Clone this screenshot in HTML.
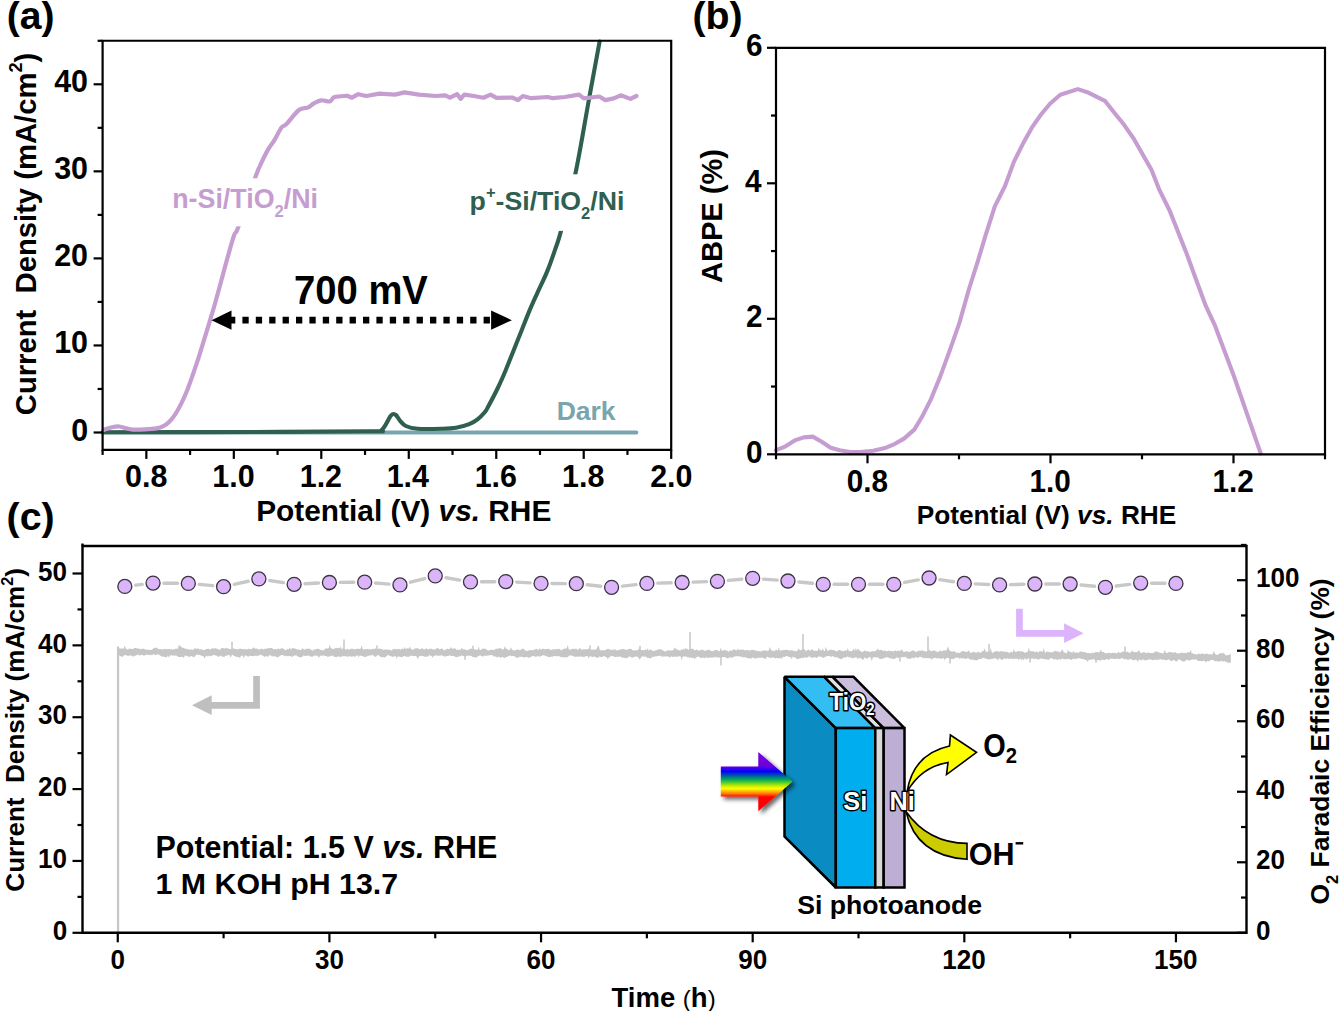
<!DOCTYPE html>
<html><head><meta charset="utf-8"><title>figure</title>
<style>html,body{margin:0;padding:0;background:#fff;overflow:hidden;}svg{display:block;}
text{font-family:"Liberation Sans",sans-serif;}</style></head>
<body><svg width="1339" height="1011" viewBox="0 0 1339 1011">
<rect width="1339" height="1011" fill="#fff"/>
<line x1="102.6" y1="432.4" x2="636.3" y2="432.4" stroke="#79a5ad" stroke-width="4.0" stroke-linecap="round"/>
<path d="M102.6,432.2 C127.17,432.17 205.43,432.15 250,432 C294.57,431.85 348,431.7 370,431.3 C392,430.9 378.52,432.22 382,429.6 C385.48,426.98 388.62,418.05 390.9,415.6 C393.18,413.15 394.2,414.07 395.7,414.9 C397.2,415.73 398.22,418.75 399.9,420.6 C401.58,422.45 402.82,424.63 405.8,426 C408.78,427.37 411.82,428.33 417.8,428.8 C423.78,429.27 435.33,428.97 441.7,428.8 C448.07,428.63 451.42,428.57 456,427.8 C460.58,427.03 465.62,425.6 469.2,424.2 C472.78,422.8 474.92,421.38 477.5,419.4 C480.08,417.42 482.87,414.53 484.7,412.3 C486.53,410.07 486.32,410.05 488.5,406 C490.68,401.95 494.93,393.97 497.8,388 C500.67,382.03 503.07,376.47 505.7,370.2 C508.33,363.93 510.97,356.98 513.6,350.4 C516.23,343.82 518.87,337.28 521.5,330.7 C524.13,324.12 526.77,317.17 529.4,310.9 C532.03,304.63 534.33,299.68 537.3,293.1 C540.27,286.52 544.23,278.65 547.2,271.4 C550.17,264.15 552.8,256.35 555.1,249.6 C557.4,242.85 557.6,243.63 561,230.9 C564.4,218.17 570.78,195.43 575.5,173.2 C580.22,150.97 585.28,119.43 589.3,97.5 C593.32,75.57 597.88,50.92 599.6,41.6" fill="none" stroke="#2f5f4f" stroke-width="4.1" stroke-linejoin="round" stroke-linecap="round" />
<path d="M103.7,429.9 C105.07,429.47 109.3,427.87 111.9,427.3 C114.5,426.73 116.83,426.32 119.3,426.5 C121.77,426.68 124.47,427.88 126.7,428.4 C128.93,428.92 129.73,429.43 132.7,429.6 C135.67,429.77 140.55,429.6 144.5,429.4 C148.45,429.2 153.27,428.93 156.4,428.4 C159.53,427.87 161.15,427.32 163.3,426.2 C165.45,425.08 167.32,423.68 169.3,421.7 C171.28,419.72 173.23,417.27 175.2,414.3 C177.17,411.33 179.12,407.87 181.1,403.9 C183.08,399.93 185.12,395.45 187.1,390.5 C189.08,385.55 191.02,379.88 193,374.2 C194.98,368.52 197.02,362.58 199,356.4 C200.98,350.22 202.93,343.53 204.9,337.1 C206.87,330.67 208.95,323.98 210.8,317.8 C212.65,311.62 212.37,313 216,300 C219.63,287 228.9,251.93 232.6,239.8 C236.3,227.67 234.4,237.62 238.2,227.2 C242,216.78 251.75,187.58 255.4,177.3 C259.05,167.02 258,170.12 260.1,165.5 C262.2,160.88 265.62,153.83 268,149.6 C270.38,145.37 272.15,143.78 274.4,140.1 C276.65,136.42 279.53,130.13 281.5,127.5 C283.47,124.87 283.3,127.22 286.2,124.3 C289.1,121.38 295.33,112.77 298.9,110 C302.47,107.23 305.1,108.8 307.6,107.7 C310.1,106.6 311.65,104.63 313.9,103.4 C316.15,102.17 318.45,100.63 321.1,100.3 C323.75,99.97 327.57,101.93 329.8,101.4 C332.03,100.87 331.6,98.03 334.5,97.1 C337.4,96.17 345.08,96.02 347.2,95.8" fill="none" stroke="#c69dd1" stroke-width="4.2" stroke-linejoin="round" stroke-linecap="round" />
<polyline points="347.2,95.8 351.9,97.7 358.3,94.2 366.3,96 379.4,93.6 395,94.6 404.5,92.4 418.9,94.6 435.6,96 445.2,95.3 450,97.7 457.1,94.1 460.7,98.9 464.3,94.6 473.8,96 483.4,97.7 490.6,94.6 496.5,97.9 512.1,97.5 518,100.1 522.8,96 531.2,98.2 547.9,97 552.7,98.2 564.7,97 579,94.6 583.8,98.4 599.3,96.5 605.3,100.1 613.7,98.4 620.8,95.3 630.4,98.9 636.4,96" fill="none" stroke="#c69dd1" stroke-width="4.2" stroke-linejoin="round" stroke-linecap="round" />
<rect x="170" y="178.3" width="150" height="48" fill="#fff"/>
<rect x="468" y="174.3" width="158" height="56.6" fill="#fff"/>
<text transform="translate(172.21,208.10) scale(0.8943,0.8943)" font-size="30" fill="#c69dd1" font-family="Liberation Sans" font-weight="bold" >n-Si/TiO<tspan class="ss" font-size="18.6" dy="10.2">2</tspan><tspan dy="-10.2">/Ni</tspan></text>
<text transform="translate(469.62,209.65) scale(0.8900,0.8900)" font-size="30" fill="#2f5f4f" font-family="Liberation Sans" font-weight="bold" >p<tspan class="ss" font-size="18.6" dy="-13.2">+</tspan><tspan dy="13.2">-Si/TiO</tspan><tspan class="ss" font-size="18.6" dy="10.2">2</tspan><tspan dy="-10.2">/Ni</tspan></text>
<text transform="translate(556.63,420.26) scale(0.8849,0.8849)" font-size="30" fill="#79a5ad" font-family="Liberation Sans" font-weight="bold" >Dark</text>
<text transform="translate(294.01,304.46) scale(1.2744,1.3459)" font-size="30" fill="#000" font-family="Liberation Sans" font-weight="bold" >700 mV</text>
<line x1="229" y1="320.2" x2="493" y2="320.2" stroke="#000" stroke-width="6.8" stroke-dasharray="6.3 7.1"/>
<polygon points="211.5,320.2 231.5,310.6 231.5,329.8" fill="#000"/>
<polygon points="511.9,320.2 491.1,310.6 491.1,329.8" fill="#000"/>
<path d="M102.6,40.77 H671.2 V449.91 H102.6 Z" fill="none" stroke="#000" stroke-width="2.2"/>
<line x1="93.6" y1="432.5" x2="102.6" y2="432.5" stroke="#000" stroke-width="2.2" stroke-linecap="butt"/>
<text transform="translate(71.17,440.54) scale(1.0150,1.0400)" font-size="30" font-family="Liberation Sans" font-weight="bold">0</text>
<line x1="97.6" y1="388.98" x2="102.6" y2="388.98" stroke="#000" stroke-width="2.2" stroke-linecap="butt"/>
<line x1="93.6" y1="345.45" x2="102.6" y2="345.45" stroke="#000" stroke-width="2.2" stroke-linecap="butt"/>
<text transform="translate(54.17,353.49) scale(1.0150,1.0400)" font-size="30" font-family="Liberation Sans" font-weight="bold">10</text>
<line x1="97.6" y1="301.93" x2="102.6" y2="301.93" stroke="#000" stroke-width="2.2" stroke-linecap="butt"/>
<line x1="93.6" y1="258.4" x2="102.6" y2="258.4" stroke="#000" stroke-width="2.2" stroke-linecap="butt"/>
<text transform="translate(54.17,266.44) scale(1.0150,1.0400)" font-size="30" font-family="Liberation Sans" font-weight="bold">20</text>
<line x1="97.6" y1="214.88" x2="102.6" y2="214.88" stroke="#000" stroke-width="2.2" stroke-linecap="butt"/>
<line x1="93.6" y1="171.35" x2="102.6" y2="171.35" stroke="#000" stroke-width="2.2" stroke-linecap="butt"/>
<text transform="translate(54.17,179.39) scale(1.0150,1.0400)" font-size="30" font-family="Liberation Sans" font-weight="bold">30</text>
<line x1="97.6" y1="127.82" x2="102.6" y2="127.82" stroke="#000" stroke-width="2.2" stroke-linecap="butt"/>
<line x1="93.6" y1="84.3" x2="102.6" y2="84.3" stroke="#000" stroke-width="2.2" stroke-linecap="butt"/>
<text transform="translate(54.17,92.34) scale(1.0150,1.0400)" font-size="30" font-family="Liberation Sans" font-weight="bold">40</text>
<line x1="97.6" y1="40.77" x2="102.6" y2="40.77" stroke="#000" stroke-width="2.2" stroke-linecap="butt"/>
<line x1="102.6" y1="449.91" x2="102.6" y2="454.91" stroke="#000" stroke-width="2.2" stroke-linecap="butt"/>
<line x1="146.34" y1="449.91" x2="146.34" y2="458.91" stroke="#000" stroke-width="2.2" stroke-linecap="butt"/>
<text transform="translate(125.02,487.34) scale(1.0150,1.0400)" font-size="30" font-family="Liberation Sans" font-weight="bold">0.8</text>
<line x1="190.08" y1="449.91" x2="190.08" y2="454.91" stroke="#000" stroke-width="2.2" stroke-linecap="butt"/>
<line x1="233.82" y1="449.91" x2="233.82" y2="458.91" stroke="#000" stroke-width="2.2" stroke-linecap="butt"/>
<text transform="translate(212.25,487.34) scale(1.0150,1.0400)" font-size="30" font-family="Liberation Sans" font-weight="bold">1.0</text>
<line x1="277.55" y1="449.91" x2="277.55" y2="454.91" stroke="#000" stroke-width="2.2" stroke-linecap="butt"/>
<line x1="321.29" y1="449.91" x2="321.29" y2="458.91" stroke="#000" stroke-width="2.2" stroke-linecap="butt"/>
<text transform="translate(299.72,487.34) scale(1.0150,1.0400)" font-size="30" font-family="Liberation Sans" font-weight="bold">1.2</text>
<line x1="365.03" y1="449.91" x2="365.03" y2="454.91" stroke="#000" stroke-width="2.2" stroke-linecap="butt"/>
<line x1="408.77" y1="449.91" x2="408.77" y2="458.91" stroke="#000" stroke-width="2.2" stroke-linecap="butt"/>
<text transform="translate(386.69,486.82) scale(1.0150,1.0400)" font-size="30" font-family="Liberation Sans" font-weight="bold">1.4</text>
<line x1="452.51" y1="449.91" x2="452.51" y2="454.91" stroke="#000" stroke-width="2.2" stroke-linecap="butt"/>
<line x1="496.25" y1="449.91" x2="496.25" y2="458.91" stroke="#000" stroke-width="2.2" stroke-linecap="butt"/>
<text transform="translate(474.68,487.34) scale(1.0150,1.0400)" font-size="30" font-family="Liberation Sans" font-weight="bold">1.6</text>
<line x1="539.98" y1="449.91" x2="539.98" y2="454.91" stroke="#000" stroke-width="2.2" stroke-linecap="butt"/>
<line x1="583.72" y1="449.91" x2="583.72" y2="458.91" stroke="#000" stroke-width="2.2" stroke-linecap="butt"/>
<text transform="translate(562.03,487.34) scale(1.0150,1.0400)" font-size="30" font-family="Liberation Sans" font-weight="bold">1.8</text>
<line x1="627.46" y1="449.91" x2="627.46" y2="454.91" stroke="#000" stroke-width="2.2" stroke-linecap="butt"/>
<line x1="671.2" y1="449.91" x2="671.2" y2="458.91" stroke="#000" stroke-width="2.2" stroke-linecap="butt"/>
<text transform="translate(650.14,487.34) scale(1.0150,1.0400)" font-size="30" font-family="Liberation Sans" font-weight="bold">2.0</text>
<text transform="translate(256.21,520.62) scale(0.9949,0.9893)" font-size="30" fill="#000" font-family="Liberation Sans" font-weight="bold" >Potential (V) <tspan font-style="italic">vs.</tspan> RHE</text>
<text transform="translate(36.26,415.22) rotate(-90) scale(0.9744,1.0143)" font-size="30" fill="#000" font-family="Liberation Sans" font-weight="bold" xml:space="preserve">Current  Density (mA/cm<tspan class="ss" font-size="18.6" dy="-13.8">2</tspan><tspan dy="13.8">)</tspan></text>
<text transform="translate(6.69,28.76) scale(1.3039,1.3039)" font-size="30" fill="#000" font-family="Liberation Sans" font-weight="bold" >(a)</text>
<polyline points="776,450.2 784.4,446.9 794.7,440.4 803.7,437.4 812.7,436.6 821.7,441.7 830.7,447.7 839.7,450.2 850,452 860.3,452 873.2,450.7 886,447.7 895,443.8 904,438.6 914.3,429.6 922,416.8 931.1,398.8 940.1,376.9 950.4,348.6 959.4,322.9 969,289 978,260.6 985.7,234.9 994.7,206.6 1005,186 1014,161.6 1023,143.6 1032,127.4 1041,114.5 1050,103.7 1060.3,94.7 1077.8,89.1 1087.3,92.2 1105.3,101.2 1114.3,112.7 1124.1,124.8 1133.6,138.5 1151.6,170.1 1159.4,189.9 1169.6,210.5 1186.4,252.9 1196.7,281.2 1205.7,305.7 1215,325.7 1233.7,375.5 1260.7,453.4" fill="none" stroke="#c69dd1" stroke-width="4.1" stroke-linejoin="round" stroke-linecap="round" />
<path d="M776.0,47.8 H1325.0 V454.3 H776.0 Z" fill="none" stroke="#000" stroke-width="2.2"/>
<line x1="767" y1="454.3" x2="776" y2="454.3" stroke="#000" stroke-width="2.2" stroke-linecap="butt"/>
<text transform="translate(746.05,462.64) scale(0.9900,1.0350)" font-size="30" font-family="Liberation Sans" font-weight="bold">0</text>
<line x1="771" y1="386.55" x2="776" y2="386.55" stroke="#000" stroke-width="2.2" stroke-linecap="butt"/>
<line x1="767" y1="318.8" x2="776" y2="318.8" stroke="#000" stroke-width="2.2" stroke-linecap="butt"/>
<text transform="translate(746.05,327.27) scale(0.9900,1.0350)" font-size="30" font-family="Liberation Sans" font-weight="bold">2</text>
<line x1="771" y1="251.05" x2="776" y2="251.05" stroke="#000" stroke-width="2.2" stroke-linecap="butt"/>
<line x1="767" y1="183.3" x2="776" y2="183.3" stroke="#000" stroke-width="2.2" stroke-linecap="butt"/>
<text transform="translate(745.06,191.51) scale(0.9900,1.0350)" font-size="30" font-family="Liberation Sans" font-weight="bold">4</text>
<line x1="771" y1="115.55" x2="776" y2="115.55" stroke="#000" stroke-width="2.2" stroke-linecap="butt"/>
<line x1="767" y1="47.8" x2="776" y2="47.8" stroke="#000" stroke-width="2.2" stroke-linecap="butt"/>
<text transform="translate(746.05,56.14) scale(0.9900,1.0350)" font-size="30" font-family="Liberation Sans" font-weight="bold">6</text>
<line x1="776" y1="454.3" x2="776" y2="459.3" stroke="#000" stroke-width="2.2" stroke-linecap="butt"/>
<line x1="867.5" y1="454.3" x2="867.5" y2="463.3" stroke="#000" stroke-width="2.2" stroke-linecap="butt"/>
<text transform="translate(846.71,491.94) scale(0.9900,1.0350)" font-size="30" font-family="Liberation Sans" font-weight="bold">0.8</text>
<line x1="959" y1="454.3" x2="959" y2="459.3" stroke="#000" stroke-width="2.2" stroke-linecap="butt"/>
<line x1="1050.5" y1="454.3" x2="1050.5" y2="463.3" stroke="#000" stroke-width="2.2" stroke-linecap="butt"/>
<text transform="translate(1029.46,491.94) scale(0.9900,1.0350)" font-size="30" font-family="Liberation Sans" font-weight="bold">1.0</text>
<line x1="1142" y1="454.3" x2="1142" y2="459.3" stroke="#000" stroke-width="2.2" stroke-linecap="butt"/>
<line x1="1233.5" y1="454.3" x2="1233.5" y2="463.3" stroke="#000" stroke-width="2.2" stroke-linecap="butt"/>
<text transform="translate(1212.46,491.94) scale(0.9900,1.0350)" font-size="30" font-family="Liberation Sans" font-weight="bold">1.2</text>
<line x1="1325" y1="454.3" x2="1325" y2="459.3" stroke="#000" stroke-width="2.2" stroke-linecap="butt"/>
<text transform="translate(916.65,523.63) scale(0.8750,0.8750)" font-size="30" fill="#000" font-family="Liberation Sans" font-weight="bold" >Potential (V) <tspan font-style="italic">vs.</tspan> RHE</text>
<text transform="translate(722.00,283.03) rotate(-90) scale(0.9699,0.9607)" font-size="30" fill="#000" font-family="Liberation Sans" font-weight="bold" >ABPE (%)</text>
<text transform="translate(692.40,28.80) scale(1.3099,1.3099)" font-size="30" fill="#000" font-family="Liberation Sans" font-weight="bold" >(b)</text>
<path d="M118.8,648.42 L119.8,648.47 L120.8,648.72 L121.8,647.9 L122.8,649.01 L123.8,648.2 L124.8,645.38 L125.8,648.69 L126.8,648.92 L127.8,649.65 L128.8,648.72 L129.8,648.46 L130.8,649.12 L131.8,648.83 L132.8,648.95 L133.8,648.48 L134.8,648.05 L135.8,647.67 L136.8,648.44 L137.8,648.34 L138.8,648.97 L139.8,648.62 L140.8,649.48 L141.8,648.8 L142.8,648.86 L143.8,648.66 L144.8,649.28 L145.8,649.57 L146.8,649.97 L147.8,649.6 L148.8,650.02 L149.8,650.03 L150.8,649.85 L151.8,649.98 L152.8,648.89 L153.8,647.98 L154.8,647.56 L155.8,648.26 L156.8,647.56 L157.8,648.81 L158.8,649.14 L159.8,649.01 L160.8,649.22 L161.8,649.31 L162.8,649.55 L163.8,648.97 L164.8,649.08 L165.8,648.7 L166.8,649.28 L167.8,648.98 L168.8,649.05 L169.8,649.2 L170.8,649.26 L171.8,649.31 L172.8,649.79 L173.8,649 L174.8,649.49 L175.8,648.55 L176.8,648.44 L177.8,649.13 L178.8,644.97 L179.8,646.57 L180.8,647.4 L181.8,647.09 L182.8,648 L183.8,647.72 L184.8,648.49 L185.8,648.92 L186.8,648.63 L187.8,649.43 L188.8,649.35 L189.8,649.77 L190.8,649.61 L191.8,649.49 L192.8,650.04 L193.8,649.18 L194.8,648.23 L195.8,648.4 L196.8,649.06 L197.8,648.27 L198.8,649.05 L199.8,649.72 L200.8,648.94 L201.8,649.47 L202.8,649.79 L203.8,650.2 L204.8,649.67 L205.8,649.32 L206.8,649.07 L207.8,648.78 L208.8,648.71 L209.8,649.44 L210.8,649.37 L211.8,648.26 L212.8,648.13 L213.8,648.79 L214.8,648.23 L215.8,648.28 L216.8,648.7 L217.8,648.92 L218.8,649.42 L219.8,649.91 L220.8,648.79 L221.8,648.06 L222.8,647.67 L223.8,648.43 L224.8,648.58 L225.8,648.1 L226.8,648.46 L227.8,648.02 L228.8,649.09 L229.8,648.9 L230.8,648.88 L231.8,649.46 L232.8,649.02 L233.8,648.06 L234.8,649 L235.8,648.93 L236.8,649.62 L237.8,649.12 L238.8,649.48 L239.8,648.44 L240.8,648.83 L241.8,649.12 L242.8,649.06 L243.8,649.33 L244.8,649.55 L245.8,648.71 L246.8,649.49 L247.8,649.35 L248.8,648.38 L249.8,649.33 L250.8,649.13 L251.8,648.87 L252.8,648.47 L253.8,647.27 L254.8,648.33 L255.8,648.98 L256.8,648.16 L257.8,649.29 L258.8,649.52 L259.8,649.44 L260.8,648.67 L261.8,648.65 L262.8,648.88 L263.8,649.77 L264.8,648.72 L265.8,648.52 L266.8,648.83 L267.8,648.4 L268.8,647.76 L269.8,648.43 L270.8,647.87 L271.8,648.05 L272.8,648.82 L273.8,649.41 L274.8,649.07 L275.8,649.28 L276.8,649.57 L277.8,648.58 L278.8,648.82 L279.8,649.35 L280.8,648.42 L281.8,648.23 L282.8,648.26 L283.8,649.28 L284.8,649.68 L285.8,650.16 L286.8,649.42 L287.8,648.68 L288.8,649.38 L289.8,647.34 L290.8,649.63 L291.8,648.57 L292.8,647.96 L293.8,648.6 L294.8,648.28 L295.8,649.02 L296.8,649.3 L297.8,649.54 L298.8,649.6 L299.8,650.04 L300.8,649.99 L301.8,648.94 L302.8,648.35 L303.8,649.44 L304.8,649.52 L305.8,649.23 L306.8,648.42 L307.8,649.03 L308.8,648.62 L309.8,648.85 L310.8,649.6 L311.8,650.18 L312.8,650.51 L313.8,649.93 L314.8,649.08 L315.8,649.58 L316.8,648.73 L317.8,648.87 L318.8,648.98 L319.8,649.62 L320.8,649.76 L321.8,650.28 L322.8,650.3 L323.8,650.37 L324.8,649.21 L325.8,648.37 L326.8,648.38 L327.8,648.57 L328.8,647.88 L329.8,644.48 L330.8,648.16 L331.8,648.58 L332.8,649.06 L333.8,648.75 L334.8,648.56 L335.8,648.03 L336.8,648.26 L337.8,648.08 L338.8,647.7 L339.8,648.51 L340.8,646.22 L341.8,649.55 L342.8,648.49 L343.8,648.01 L344.8,649.02 L345.8,649.77 L346.8,648.84 L347.8,649.32 L348.8,649.45 L349.8,649.44 L350.8,649.05 L351.8,648.41 L352.8,648.79 L353.8,649.48 L354.8,648.95 L355.8,649.6 L356.8,648.56 L357.8,649.06 L358.8,648.86 L359.8,648.9 L360.8,648.4 L361.8,645.37 L362.8,649.5 L363.8,649.57 L364.8,649.36 L365.8,649.1 L366.8,649.16 L367.8,648.82 L368.8,649.36 L369.8,649.44 L370.8,649.32 L371.8,649.29 L372.8,648.76 L373.8,649.21 L374.8,648.68 L375.8,648.14 L376.8,649.36 L377.8,648.96 L378.8,648.85 L379.8,648.13 L380.8,649.32 L381.8,648.89 L382.8,649.61 L383.8,650.11 L384.8,649.18 L385.8,649.58 L386.8,649.8 L387.8,649.45 L388.8,649.72 L389.8,649.8 L390.8,650.25 L391.8,650.59 L392.8,649.29 L393.8,649.31 L394.8,648.81 L395.8,649.43 L396.8,648.77 L397.8,649.39 L398.8,648.74 L399.8,649.21 L400.8,649.83 L401.8,649 L402.8,648.61 L403.8,649.37 L404.8,646.67 L405.8,649.49 L406.8,648.52 L407.8,648.37 L408.8,648.84 L409.8,646.42 L410.8,648.75 L411.8,649.52 L412.8,649.75 L413.8,649.39 L414.8,648.51 L415.8,648.16 L416.8,648.13 L417.8,648.21 L418.8,649.1 L419.8,649.26 L420.8,649.01 L421.8,648.28 L422.8,648.39 L423.8,649.44 L424.8,649.16 L425.8,648.63 L426.8,648.37 L427.8,649.62 L428.8,649.27 L429.8,648.87 L430.8,648.84 L431.8,648.77 L432.8,649.46 L433.8,649.18 L434.8,649.71 L435.8,649.07 L436.8,648.32 L437.8,648.06 L438.8,648.85 L439.8,649.42 L440.8,648.88 L441.8,648.23 L442.8,649.22 L443.8,650.01 L444.8,650.55 L445.8,649.32 L446.8,649.11 L447.8,648.58 L448.8,649.18 L449.8,649.1 L450.8,647.11 L451.8,648.52 L452.8,649 L453.8,648.28 L454.8,648.28 L455.8,648.91 L456.8,649.88 L457.8,649.51 L458.8,650.13 L459.8,649.16 L460.8,650.1 L461.8,647.5 L462.8,649.35 L463.8,649.58 L464.8,649.2 L465.8,649.65 L466.8,650.13 L467.8,649.94 L468.8,649.78 L469.8,649.04 L470.8,648.4 L471.8,648.71 L472.8,649.64 L473.8,649.55 L474.8,649.04 L475.8,649.65 L476.8,649.41 L477.8,649.95 L478.8,646.49 L479.8,650.16 L480.8,650.09 L481.8,649.01 L482.8,648.78 L483.8,648.73 L484.8,648.78 L485.8,648.64 L486.8,649.82 L487.8,650.2 L488.8,650.67 L489.8,649.86 L490.8,649.91 L491.8,649.48 L492.8,650.17 L493.8,649.85 L494.8,649.66 L495.8,648.78 L496.8,648.64 L497.8,648.86 L498.8,648.25 L499.8,648.48 L500.8,647.99 L501.8,649.13 L502.8,649.81 L503.8,648.95 L504.8,645.98 L505.8,648.81 L506.8,648.83 L507.8,649.82 L508.8,650.12 L509.8,650.19 L510.8,647.13 L511.8,649.25 L512.8,650.03 L513.8,650.69 L514.8,650.05 L515.8,650.14 L516.8,649.63 L517.8,649.36 L518.8,650.11 L519.8,649.99 L520.8,649.71 L521.8,649.15 L522.8,648.45 L523.8,649.05 L524.8,650.12 L525.8,650.76 L526.8,651.15 L527.8,650.77 L528.8,650.29 L529.8,650.37 L530.8,650.1 L531.8,650.13 L532.8,649.88 L533.8,650.23 L534.8,649.33 L535.8,649.14 L536.8,648.73 L537.8,649.78 L538.8,649.92 L539.8,648.06 L540.8,650.1 L541.8,649.31 L542.8,648.74 L543.8,648.82 L544.8,649.54 L545.8,648.92 L546.8,649.01 L547.8,648.96 L548.8,648.82 L549.8,649.44 L550.8,649.94 L551.8,649.65 L552.8,649.25 L553.8,649.23 L554.8,649.23 L555.8,649.54 L556.8,648.82 L557.8,649.44 L558.8,648.64 L559.8,648.97 L560.8,650.07 L561.8,650.48 L562.8,649.35 L563.8,648.95 L564.8,648.57 L565.8,648.39 L566.8,648.44 L567.8,644.65 L568.8,649.5 L569.8,649.61 L570.8,649.63 L571.8,648.89 L572.8,648.73 L573.8,649.01 L574.8,648.55 L575.8,649.03 L576.8,648.65 L577.8,650.35 L578.8,649.22 L579.8,647.4 L580.8,649.22 L581.8,649.38 L582.8,649.61 L583.8,649.27 L584.8,649.3 L585.8,649.36 L586.8,649.53 L587.8,648.87 L588.8,648.71 L589.8,649.93 L590.8,649.59 L591.8,649.82 L592.8,649.8 L593.8,649.31 L594.8,650.11 L595.8,649.2 L596.8,649.07 L597.8,645.65 L598.8,645.96 L599.8,649.88 L600.8,650.14 L601.8,650.47 L602.8,650.07 L603.8,650.35 L604.8,650.4 L605.8,649.78 L606.8,649.24 L607.8,648.75 L608.8,648.92 L609.8,649.59 L610.8,650.08 L611.8,649.66 L612.8,649.73 L613.8,649.48 L614.8,649.27 L615.8,649.88 L616.8,650.41 L617.8,650.36 L618.8,650.03 L619.8,649.21 L620.8,649.78 L621.8,649.15 L622.8,648.67 L623.8,649.17 L624.8,649.56 L625.8,649.4 L626.8,650.19 L627.8,649.16 L628.8,648.96 L629.8,648.9 L630.8,648.64 L631.8,649.18 L632.8,650.18 L633.8,650.81 L634.8,650.32 L635.8,650.12 L636.8,650.8 L637.8,649.63 L638.8,649.01 L639.8,648.54 L640.8,649.92 L641.8,649.91 L642.8,649.93 L643.8,650.26 L644.8,650.06 L645.8,649.31 L646.8,650.32 L647.8,648.3 L648.8,650.74 L649.8,649.64 L650.8,649.3 L651.8,650.52 L652.8,650.82 L653.8,651.3 L654.8,650.45 L655.8,650.38 L656.8,650.1 L657.8,649.39 L658.8,649.29 L659.8,649.58 L660.8,649.23 L661.8,649.82 L662.8,650.33 L663.8,651.05 L664.8,651.49 L665.8,651.37 L666.8,650.42 L667.8,650.8 L668.8,649.68 L669.8,650.47 L670.8,651.04 L671.8,650.06 L672.8,650.43 L673.8,649.57 L674.8,647.24 L675.8,648.81 L676.8,649.76 L677.8,649.35 L678.8,650.38 L679.8,650.35 L680.8,650.14 L681.8,649.54 L682.8,649.55 L683.8,648.51 L684.8,650.11 L685.8,647.43 L686.8,649.31 L687.8,649.34 L688.8,649.7 L689.8,649.36 L690.8,649.03 L691.8,648.86 L692.8,648.73 L693.8,649.6 L694.8,650.56 L695.8,649.95 L696.8,649.27 L697.8,650.45 L698.8,650.85 L699.8,650.11 L700.8,650.21 L701.8,649.8 L702.8,649.38 L703.8,650.54 L704.8,650.76 L705.8,651.08 L706.8,649.84 L707.8,650.16 L708.8,649.37 L709.8,650.36 L710.8,650.74 L711.8,650.92 L712.8,651.13 L713.8,651 L714.8,649.81 L715.8,650.24 L716.8,649.89 L717.8,650.35 L718.8,651.03 L719.8,651.53 L720.8,647.46 L721.8,650.67 L722.8,650.63 L723.8,649.66 L724.8,650.14 L725.8,650.13 L726.8,650.51 L727.8,651.19 L728.8,651.71 L729.8,650.33 L730.8,650.7 L731.8,650.79 L732.8,649.88 L733.8,649.24 L734.8,649.54 L735.8,650.28 L736.8,650.49 L737.8,648.39 L738.8,649.83 L739.8,650 L740.8,649.44 L741.8,649.81 L742.8,649.58 L743.8,649.63 L744.8,650.14 L745.8,650.14 L746.8,649.99 L747.8,649.96 L748.8,650.52 L749.8,650.34 L750.8,650.42 L751.8,649.53 L752.8,650.07 L753.8,649.65 L754.8,650.52 L755.8,650.85 L756.8,650.22 L757.8,651.17 L758.8,651.27 L759.8,650.97 L760.8,651.46 L761.8,650.9 L762.8,650.76 L763.8,650.36 L764.8,650.74 L765.8,650.21 L766.8,650.58 L767.8,651.31 L768.8,650.22 L769.8,646.84 L770.8,649.84 L771.8,650.77 L772.8,650.55 L773.8,651.4 L774.8,650.4 L775.8,650.31 L776.8,649.79 L777.8,650.76 L778.8,647.08 L779.8,650.92 L780.8,649.94 L781.8,650.82 L782.8,650.12 L783.8,649.96 L784.8,649.93 L785.8,649.74 L786.8,649.65 L787.8,650.03 L788.8,650.46 L789.8,650.34 L790.8,650.48 L791.8,650.02 L792.8,650.46 L793.8,651.11 L794.8,650.82 L795.8,651.61 L796.8,650.75 L797.8,650.34 L798.8,648.24 L799.8,650.3 L800.8,650.31 L801.8,649.84 L802.8,649.65 L803.8,648.52 L804.8,649.85 L805.8,650.99 L806.8,650.42 L807.8,649.71 L808.8,649.55 L809.8,650.82 L810.8,650.19 L811.8,649.56 L812.8,649.56 L813.8,650.85 L814.8,651.1 L815.8,650.55 L816.8,650.91 L817.8,650.82 L818.8,646.88 L819.8,650.47 L820.8,649.99 L821.8,650.4 L822.8,648.2 L823.8,650.77 L824.8,651.16 L825.8,646.75 L826.8,649.78 L827.8,650.92 L828.8,650.29 L829.8,649.88 L830.8,649.6 L831.8,650.02 L832.8,650.03 L833.8,650.13 L834.8,650.18 L835.8,651.16 L836.8,651.46 L837.8,650.63 L838.8,650 L839.8,650.08 L840.8,650.51 L841.8,650.91 L842.8,650.99 L843.8,651.16 L844.8,650.47 L845.8,650.19 L846.8,651.08 L847.8,648.1 L848.8,651.28 L849.8,650.63 L850.8,651.5 L851.8,650.91 L852.8,650.27 L853.8,648.48 L854.8,651.2 L855.8,647.9 L856.8,650.86 L857.8,648.49 L858.8,649.68 L859.8,650.75 L860.8,651.23 L861.8,651.76 L862.8,651.92 L863.8,651.09 L864.8,650.24 L865.8,651.4 L866.8,651.23 L867.8,651.09 L868.8,651.93 L869.8,651.86 L870.8,651.69 L871.8,651.16 L872.8,651.05 L873.8,651.47 L874.8,651.18 L875.8,650.8 L876.8,650.05 L877.8,648.14 L878.8,650.61 L879.8,650 L880.8,650.08 L881.8,649.63 L882.8,651 L883.8,650.68 L884.8,650.53 L885.8,650.66 L886.8,651.4 L887.8,651.02 L888.8,650.37 L889.8,651.13 L890.8,650.93 L891.8,650.75 L892.8,651.5 L893.8,651.13 L894.8,650.39 L895.8,650.45 L896.8,651.41 L897.8,650.79 L898.8,650.38 L899.8,651.08 L900.8,650.78 L901.8,649.08 L902.8,650.99 L903.8,651.9 L904.8,651.73 L905.8,651.6 L906.8,650.8 L907.8,651.76 L908.8,652.02 L909.8,651.53 L910.8,651.51 L911.8,650.74 L912.8,650.58 L913.8,650.43 L914.8,651.28 L915.8,651.94 L916.8,651.81 L917.8,651.04 L918.8,650.41 L919.8,650.88 L920.8,650.81 L921.8,650.4 L922.8,650.22 L923.8,651.35 L924.8,651.05 L925.8,651.63 L926.8,651.26 L927.8,650.95 L928.8,649.64 L929.8,649.89 L930.8,651.29 L931.8,651.08 L932.8,650.69 L933.8,650.38 L934.8,650.4 L935.8,651.3 L936.8,651.5 L937.8,652.32 L938.8,651.58 L939.8,650.95 L940.8,650.31 L941.8,651.53 L942.8,651.01 L943.8,650.37 L944.8,650.6 L945.8,650.62 L946.8,650.12 L947.8,646.15 L948.8,649.03 L949.8,650.87 L950.8,651.1 L951.8,651.64 L952.8,651.7 L953.8,650.79 L954.8,651.79 L955.8,652.46 L956.8,652.52 L957.8,652.79 L958.8,652.94 L959.8,652.73 L960.8,652.28 L961.8,651.25 L962.8,651.25 L963.8,651.05 L964.8,651.41 L965.8,652.04 L966.8,652.09 L967.8,651.53 L968.8,650.23 L969.8,652.3 L970.8,652.84 L971.8,652.77 L972.8,652.33 L973.8,651.39 L974.8,652.29 L975.8,652.63 L976.8,652.63 L977.8,651.42 L978.8,652.37 L979.8,652.41 L980.8,652.81 L981.8,651.8 L982.8,651.02 L983.8,650.77 L984.8,648.26 L985.8,652.19 L986.8,651.2 L987.8,652.12 L988.8,652.76 L989.8,651.45 L990.8,648.25 L991.8,652.59 L992.8,653.11 L993.8,651.66 L994.8,651.48 L995.8,651.22 L996.8,651.27 L997.8,650.9 L998.8,651.94 L999.8,651.43 L1000.8,651.16 L1001.8,651.56 L1002.8,650.97 L1003.8,651.78 L1004.8,651.96 L1005.8,651.46 L1006.8,651.89 L1007.8,652.03 L1008.8,652.82 L1009.8,652.99 L1010.8,651.79 L1011.8,651.84 L1012.8,652.52 L1013.8,648.81 L1014.8,651.88 L1015.8,651.55 L1016.8,651.71 L1017.8,651.49 L1018.8,650.73 L1019.8,651.34 L1020.8,651.75 L1021.8,651.31 L1022.8,651.39 L1023.8,652.17 L1024.8,652.73 L1025.8,652.73 L1026.8,651.77 L1027.8,651.9 L1028.8,647.48 L1029.8,650.68 L1030.8,651.38 L1031.8,650.8 L1032.8,651.83 L1033.8,650.98 L1034.8,652.17 L1035.8,652.05 L1036.8,651 L1037.8,652.83 L1038.8,651.89 L1039.8,651.03 L1040.8,651.6 L1041.8,651.1 L1042.8,652 L1043.8,647.75 L1044.8,652.17 L1045.8,652.7 L1046.8,651.62 L1047.8,651.4 L1048.8,652.11 L1049.8,652.29 L1050.8,652.2 L1051.8,652.07 L1052.8,652.49 L1053.8,651.52 L1054.8,651.1 L1055.8,650.73 L1056.8,651.46 L1057.8,651.31 L1058.8,651.86 L1059.8,652.57 L1060.8,651.57 L1061.8,650.17 L1062.8,649.54 L1063.8,652.41 L1064.8,652.49 L1065.8,653.01 L1066.8,653.48 L1067.8,649.77 L1068.8,651.7 L1069.8,651.47 L1070.8,652.35 L1071.8,652.5 L1072.8,652.49 L1073.8,650.66 L1074.8,653.16 L1075.8,652.87 L1076.8,652.12 L1077.8,652.96 L1078.8,652.58 L1079.8,651.94 L1080.8,651.3 L1081.8,651.85 L1082.8,651.64 L1083.8,652.3 L1084.8,652.37 L1085.8,652.2 L1086.8,653.04 L1087.8,652.95 L1088.8,653.07 L1089.8,653.19 L1090.8,653.13 L1091.8,653.16 L1092.8,652.21 L1093.8,652.95 L1094.8,652.72 L1095.8,651.67 L1096.8,652.18 L1097.8,652.13 L1098.8,652.16 L1099.8,651.91 L1100.8,649.23 L1101.8,651.86 L1102.8,651.92 L1103.8,652.05 L1104.8,653.04 L1105.8,653.15 L1106.8,653.49 L1107.8,652.87 L1108.8,652.79 L1109.8,653.51 L1110.8,652.67 L1111.8,653.18 L1112.8,652.54 L1113.8,653.14 L1114.8,652.39 L1115.8,653.17 L1116.8,653.43 L1117.8,652.57 L1118.8,652.03 L1119.8,653.1 L1120.8,652.86 L1121.8,651.99 L1122.8,651.64 L1123.8,651.34 L1124.8,651.7 L1125.8,652.54 L1126.8,651.85 L1127.8,651.73 L1128.8,652.84 L1129.8,652.53 L1130.8,652.87 L1131.8,650.1 L1132.8,651.91 L1133.8,651.71 L1134.8,651.91 L1135.8,652.16 L1136.8,652.28 L1137.8,651.71 L1138.8,649.69 L1139.8,651.95 L1140.8,652.71 L1141.8,653.21 L1142.8,652.19 L1143.8,652.28 L1144.8,652.26 L1145.8,653.28 L1146.8,653.11 L1147.8,652.47 L1148.8,652.41 L1149.8,653.2 L1150.8,652.85 L1151.8,653.33 L1152.8,652.97 L1153.8,652.7 L1154.8,651.81 L1155.8,651.51 L1156.8,651.58 L1157.8,651.66 L1158.8,652.68 L1159.8,652.47 L1160.8,652.88 L1161.8,652.99 L1162.8,653.7 L1163.8,652.78 L1164.8,649.8 L1165.8,652.8 L1166.8,652.94 L1167.8,652.67 L1168.8,652.1 L1169.8,652.28 L1170.8,652.19 L1171.8,652.07 L1172.8,652.88 L1173.8,652.67 L1174.8,652.11 L1175.8,652.39 L1176.8,653.32 L1177.8,653.43 L1178.8,653.57 L1179.8,653.3 L1180.8,652.65 L1181.8,652.75 L1182.8,652.63 L1183.8,652.98 L1184.8,652.83 L1185.8,653.37 L1186.8,653.03 L1187.8,652.35 L1188.8,652.06 L1189.8,652.62 L1190.8,649.56 L1191.8,653.82 L1192.8,653.1 L1193.8,654.2 L1194.8,653.93 L1195.8,654.14 L1196.8,654.42 L1197.8,654.17 L1198.8,653.16 L1199.8,654.19 L1200.8,653.91 L1201.8,653.58 L1202.8,653.55 L1203.8,654.06 L1204.8,654.18 L1205.8,653.87 L1206.8,653.48 L1207.8,653.68 L1208.8,654.57 L1209.8,654.18 L1210.8,654.15 L1211.8,654.38 L1212.8,654.27 L1213.8,650.7 L1214.8,653.39 L1215.8,654.46 L1216.8,654.78 L1217.8,655 L1218.8,654.11 L1219.8,653.4 L1220.8,652.92 L1221.8,652.99 L1222.8,653.89 L1223.8,652.27 L1224.8,654.47 L1225.8,655.29 L1226.8,655.38 L1227.8,655.02 L1228.8,655.05 L1229.8,654.42 L1230.8,653.62 L1230.8,662.56 L1229.8,662.93 L1228.8,662.7 L1227.8,662.64 L1226.8,662 L1225.8,661.93 L1224.8,661.05 L1223.8,661.53 L1222.8,661.63 L1221.8,660.46 L1220.8,661.16 L1219.8,661.33 L1218.8,661.79 L1217.8,661.27 L1216.8,661.02 L1215.8,661.49 L1214.8,661.26 L1213.8,659.99 L1212.8,660.25 L1211.8,659.83 L1210.8,659.97 L1209.8,660.65 L1208.8,661.37 L1207.8,661.29 L1206.8,660.94 L1205.8,662.72 L1204.8,661.02 L1203.8,660.41 L1202.8,661.12 L1201.8,661.24 L1200.8,661.08 L1199.8,660.95 L1198.8,660.96 L1197.8,660.86 L1196.8,659.73 L1195.8,659.17 L1194.8,659.56 L1193.8,659.84 L1192.8,659.21 L1191.8,659.57 L1190.8,660.11 L1189.8,660.22 L1188.8,660.64 L1187.8,660.07 L1186.8,659.75 L1185.8,660.25 L1184.8,661.39 L1183.8,661.39 L1182.8,661.59 L1181.8,661.06 L1180.8,660.21 L1179.8,659.67 L1178.8,659.34 L1177.8,660.23 L1176.8,661.54 L1175.8,661.22 L1174.8,660.52 L1173.8,659.91 L1172.8,660.2 L1171.8,661.33 L1170.8,660.84 L1169.8,660.19 L1168.8,659.13 L1167.8,659.99 L1166.8,659.78 L1165.8,660.43 L1164.8,660 L1163.8,659.56 L1162.8,659.99 L1161.8,659.45 L1160.8,658.97 L1159.8,659.52 L1158.8,659.41 L1157.8,660.18 L1156.8,659.19 L1155.8,660.3 L1154.8,659.51 L1153.8,660.06 L1152.8,660.15 L1151.8,660.02 L1150.8,659.58 L1149.8,659.13 L1148.8,659.34 L1147.8,659.91 L1146.8,659.76 L1145.8,660.61 L1144.8,660.29 L1143.8,659.71 L1142.8,659.37 L1141.8,660.15 L1140.8,660.21 L1139.8,659.83 L1138.8,659.19 L1137.8,662.15 L1136.8,660 L1135.8,659.58 L1134.8,660.33 L1133.8,660 L1132.8,660.02 L1131.8,659.64 L1130.8,658.88 L1129.8,659 L1128.8,659.79 L1127.8,660.11 L1126.8,659.17 L1125.8,658.93 L1124.8,659.3 L1123.8,659.06 L1122.8,658.24 L1121.8,658.13 L1120.8,658.62 L1119.8,659.03 L1118.8,659.23 L1117.8,658.52 L1116.8,658.84 L1115.8,659.12 L1114.8,658.96 L1113.8,659.02 L1112.8,658.48 L1111.8,658.99 L1110.8,658.31 L1109.8,658.99 L1108.8,660.17 L1107.8,659.34 L1106.8,659.07 L1105.8,659.56 L1104.8,659.88 L1103.8,660.08 L1102.8,659.67 L1101.8,659.58 L1100.8,660.75 L1099.8,660.59 L1098.8,660.05 L1097.8,660.37 L1096.8,659.96 L1095.8,660.51 L1094.8,659.88 L1093.8,658.77 L1092.8,659.38 L1091.8,659.4 L1090.8,659.69 L1089.8,659.79 L1088.8,659.82 L1087.8,662.02 L1086.8,660.56 L1085.8,659.98 L1084.8,659.76 L1083.8,659.31 L1082.8,659.09 L1081.8,659.11 L1080.8,658.65 L1079.8,658.2 L1078.8,658.19 L1077.8,658.48 L1076.8,658.62 L1075.8,659.36 L1074.8,658.93 L1073.8,658.62 L1072.8,659.08 L1071.8,659.77 L1070.8,659.93 L1069.8,659 L1068.8,659.31 L1067.8,658.6 L1066.8,659.39 L1065.8,659.32 L1064.8,658.91 L1063.8,659.39 L1062.8,658.34 L1061.8,658.87 L1060.8,659.6 L1059.8,659.75 L1058.8,658.87 L1057.8,660.07 L1056.8,659.72 L1055.8,659.04 L1054.8,659.25 L1053.8,659.51 L1052.8,658.94 L1051.8,657.81 L1050.8,658.25 L1049.8,658.78 L1048.8,659.92 L1047.8,659.37 L1046.8,659.81 L1045.8,659.56 L1044.8,659.01 L1043.8,659.04 L1042.8,659.1 L1041.8,658.2 L1040.8,658.77 L1039.8,658.71 L1038.8,659.66 L1037.8,659.45 L1036.8,658.63 L1035.8,658.67 L1034.8,659.14 L1033.8,658.69 L1032.8,658.37 L1031.8,658.77 L1030.8,658.84 L1029.8,658.31 L1028.8,658.35 L1027.8,658.59 L1026.8,659.74 L1025.8,658.9 L1024.8,657.92 L1023.8,660.84 L1022.8,658.36 L1021.8,660.41 L1020.8,658.96 L1019.8,658.67 L1018.8,659.87 L1017.8,659.16 L1016.8,658.57 L1015.8,659.07 L1014.8,658.41 L1013.8,659.29 L1012.8,659.02 L1011.8,658.21 L1010.8,659.31 L1009.8,658.31 L1008.8,659.22 L1007.8,658.35 L1006.8,658.61 L1005.8,659.22 L1004.8,658.09 L1003.8,658.74 L1002.8,659.76 L1001.8,659.69 L1000.8,659.23 L999.8,658.62 L998.8,658.45 L997.8,660.5 L996.8,658.93 L995.8,658.17 L994.8,658.13 L993.8,658.42 L992.8,658.77 L991.8,658.95 L990.8,658.85 L989.8,659.38 L988.8,659.51 L987.8,659.14 L986.8,658.96 L985.8,658.68 L984.8,658.37 L983.8,657.66 L982.8,657.85 L981.8,658.83 L980.8,659.11 L979.8,658.78 L978.8,659.3 L977.8,659.93 L976.8,660.14 L975.8,660.16 L974.8,660.26 L973.8,660.04 L972.8,659.61 L971.8,659.82 L970.8,659.86 L969.8,659.33 L968.8,658.66 L967.8,657.72 L966.8,658.63 L965.8,658.38 L964.8,659.11 L963.8,658.19 L962.8,658.25 L961.8,658.77 L960.8,657.8 L959.8,658.75 L958.8,658.24 L957.8,657.25 L956.8,657.93 L955.8,657.6 L954.8,658.04 L953.8,659.13 L952.8,658.83 L951.8,659.01 L950.8,658.88 L949.8,658.31 L948.8,658.27 L947.8,658.09 L946.8,657.94 L945.8,658.25 L944.8,660.54 L943.8,657.86 L942.8,658.86 L941.8,658.5 L940.8,658.3 L939.8,658.9 L938.8,658.08 L937.8,658.07 L936.8,658.78 L935.8,657.7 L934.8,658 L933.8,657.92 L932.8,658.22 L931.8,660.01 L930.8,657.9 L929.8,658.72 L928.8,658 L927.8,658.22 L926.8,657.99 L925.8,657.93 L924.8,657.89 L923.8,658.43 L922.8,657.31 L921.8,657.82 L920.8,656.77 L919.8,656.82 L918.8,657.37 L917.8,657.89 L916.8,657.78 L915.8,656.99 L914.8,657.48 L913.8,658.49 L912.8,657.85 L911.8,657.81 L910.8,658.91 L909.8,658.54 L908.8,658.74 L907.8,658.62 L906.8,658.15 L905.8,656.67 L904.8,656.89 L903.8,657.19 L902.8,656.98 L901.8,657.6 L900.8,656.95 L899.8,657.1 L898.8,657.83 L897.8,658.28 L896.8,657.28 L895.8,657.98 L894.8,659.06 L893.8,658.82 L892.8,658.88 L891.8,658.52 L890.8,658.38 L889.8,658.15 L888.8,657.89 L887.8,657.18 L886.8,657.57 L885.8,657.26 L884.8,657.89 L883.8,658.03 L882.8,659.03 L881.8,658.61 L880.8,658.99 L879.8,658.97 L878.8,658.34 L877.8,657.31 L876.8,657.73 L875.8,657.11 L874.8,657.59 L873.8,657.01 L872.8,657.67 L871.8,661.35 L870.8,657.81 L869.8,656.93 L868.8,657.29 L867.8,658.2 L866.8,658.68 L865.8,658.26 L864.8,657.6 L863.8,658.48 L862.8,660.5 L861.8,658.56 L860.8,658.46 L859.8,657.67 L858.8,657.98 L857.8,659.26 L856.8,657.53 L855.8,657.15 L854.8,657.87 L853.8,657.64 L852.8,658.5 L851.8,658.07 L850.8,657.49 L849.8,657.47 L848.8,657.27 L847.8,656.47 L846.8,657.06 L845.8,657.44 L844.8,657.57 L843.8,657.56 L842.8,658.04 L841.8,659.28 L840.8,658.88 L839.8,658.43 L838.8,658.52 L837.8,657.57 L836.8,657.73 L835.8,656.84 L834.8,657.58 L833.8,656.83 L832.8,656.07 L831.8,656.41 L830.8,656.89 L829.8,656.1 L828.8,655.99 L827.8,655.98 L826.8,656.19 L825.8,656.51 L824.8,657.08 L823.8,657.98 L822.8,657.8 L821.8,656.75 L820.8,656.89 L819.8,656.35 L818.8,656.5 L817.8,657.05 L816.8,657.95 L815.8,657.73 L814.8,656.73 L813.8,657.39 L812.8,657.98 L811.8,657.54 L810.8,657.27 L809.8,656.61 L808.8,656.45 L807.8,657.05 L806.8,658.05 L805.8,657.38 L804.8,657.03 L803.8,657.92 L802.8,657.72 L801.8,657.94 L800.8,658.27 L799.8,657.92 L798.8,659.3 L797.8,658.95 L796.8,658.76 L795.8,658.13 L794.8,657.24 L793.8,657.31 L792.8,656.58 L791.8,659.16 L790.8,657.34 L789.8,657.09 L788.8,657.11 L787.8,656.34 L786.8,656.1 L785.8,656.3 L784.8,656.93 L783.8,656.96 L782.8,656.67 L781.8,659.18 L780.8,657.62 L779.8,658.13 L778.8,658.41 L777.8,658.37 L776.8,657.83 L775.8,658.49 L774.8,658.18 L773.8,657.26 L772.8,657.94 L771.8,657.32 L770.8,658.06 L769.8,657.85 L768.8,657.53 L767.8,656.71 L766.8,656.96 L765.8,659.45 L764.8,658.3 L763.8,658.31 L762.8,658.12 L761.8,657.11 L760.8,657.98 L759.8,657.86 L758.8,658.18 L757.8,657.35 L756.8,658.41 L755.8,658.47 L754.8,658.4 L753.8,658.07 L752.8,657.3 L751.8,658.09 L750.8,658.82 L749.8,658.36 L748.8,658.56 L747.8,658.02 L746.8,657.96 L745.8,657.18 L744.8,657.16 L743.8,657.31 L742.8,657.49 L741.8,656.73 L740.8,656.61 L739.8,656.74 L738.8,656.09 L737.8,656.47 L736.8,655.99 L735.8,656.49 L734.8,656.25 L733.8,656.67 L732.8,657.55 L731.8,657.82 L730.8,657.57 L729.8,657.09 L728.8,658.03 L727.8,658.47 L726.8,658.08 L725.8,657.85 L724.8,656.88 L723.8,656.9 L722.8,657.11 L721.8,657.81 L720.8,657.48 L719.8,657.7 L718.8,657.2 L717.8,657.83 L716.8,656.92 L715.8,657.42 L714.8,656.75 L713.8,657.48 L712.8,657.71 L711.8,656.94 L710.8,658.12 L709.8,657.3 L708.8,657.96 L707.8,658 L706.8,657.33 L705.8,657.43 L704.8,658.21 L703.8,658 L702.8,657.33 L701.8,658.33 L700.8,658.11 L699.8,657.44 L698.8,656.45 L697.8,656.81 L696.8,657.27 L695.8,657.4 L694.8,659.38 L693.8,657.54 L692.8,658.32 L691.8,657.8 L690.8,657.62 L689.8,657.97 L688.8,657.27 L687.8,657.53 L686.8,656.71 L685.8,656.57 L684.8,656.84 L683.8,656.26 L682.8,656.61 L681.8,660.21 L680.8,656.8 L679.8,656.35 L678.8,656.52 L677.8,656.19 L676.8,656.92 L675.8,656.8 L674.8,656.59 L673.8,656.79 L672.8,657.35 L671.8,656.25 L670.8,656.86 L669.8,657.87 L668.8,657.09 L667.8,655.95 L666.8,656.74 L665.8,656.32 L664.8,656.4 L663.8,656.39 L662.8,656.42 L661.8,656.85 L660.8,655.93 L659.8,655.87 L658.8,655.91 L657.8,656.03 L656.8,656.19 L655.8,656.52 L654.8,656.2 L653.8,657.19 L652.8,656.41 L651.8,657.59 L650.8,658.02 L649.8,658.64 L648.8,657.73 L647.8,657.98 L646.8,657.43 L645.8,656.39 L644.8,656.7 L643.8,656.43 L642.8,656.42 L641.8,656.59 L640.8,657.71 L639.8,659.89 L638.8,657.88 L637.8,657.13 L636.8,656.14 L635.8,656.87 L634.8,656.72 L633.8,657.06 L632.8,657.66 L631.8,657.41 L630.8,657.13 L629.8,656.29 L628.8,656.63 L627.8,657.63 L626.8,658.09 L625.8,658.29 L624.8,657.95 L623.8,657.54 L622.8,657.73 L621.8,657.52 L620.8,656.67 L619.8,656.41 L618.8,656.76 L617.8,656.81 L616.8,656.67 L615.8,656.99 L614.8,656.92 L613.8,656.45 L612.8,656.01 L611.8,655.86 L610.8,656.29 L609.8,657 L608.8,657.52 L607.8,659.38 L606.8,656.93 L605.8,657.32 L604.8,656.36 L603.8,655.97 L602.8,656.77 L601.8,656.99 L600.8,657.36 L599.8,656.35 L598.8,657.59 L597.8,657.77 L596.8,657.7 L595.8,657.4 L594.8,656.43 L593.8,656.54 L592.8,657.13 L591.8,656.67 L590.8,656.39 L589.8,655.9 L588.8,658.68 L587.8,656.24 L586.8,656.34 L585.8,655.98 L584.8,656.87 L583.8,657.08 L582.8,656.64 L581.8,656.63 L580.8,656.15 L579.8,656.97 L578.8,656.14 L577.8,656.98 L576.8,656.56 L575.8,656.76 L574.8,657.11 L573.8,656.37 L572.8,656.02 L571.8,655.87 L570.8,655.33 L569.8,655.58 L568.8,656.05 L567.8,657.09 L566.8,657.5 L565.8,657.16 L564.8,657.07 L563.8,657.68 L562.8,656.93 L561.8,657.25 L560.8,657.23 L559.8,656.22 L558.8,656.52 L557.8,656.07 L556.8,656.19 L555.8,656.32 L554.8,656 L553.8,656.08 L552.8,656.85 L551.8,656.44 L550.8,656.99 L549.8,656.96 L548.8,657.35 L547.8,656.75 L546.8,656.26 L545.8,656.19 L544.8,655.54 L543.8,655.27 L542.8,655.32 L541.8,655.65 L540.8,656.16 L539.8,656.57 L538.8,656.78 L537.8,655.8 L536.8,656.59 L535.8,656.96 L534.8,656.13 L533.8,656.27 L532.8,655.94 L531.8,656.31 L530.8,657.44 L529.8,656.95 L528.8,657.98 L527.8,657.46 L526.8,656.78 L525.8,656.98 L524.8,657.57 L523.8,657.57 L522.8,656.97 L521.8,656.9 L520.8,656.85 L519.8,656.59 L518.8,657.8 L517.8,657.6 L516.8,657.9 L515.8,657.36 L514.8,656.6 L513.8,656.05 L512.8,655.97 L511.8,656.16 L510.8,655.83 L509.8,655.61 L508.8,656 L507.8,656.54 L506.8,657.12 L505.8,657.14 L504.8,657.98 L503.8,657.77 L502.8,657.28 L501.8,656.85 L500.8,658.28 L499.8,656.95 L498.8,656.52 L497.8,657.55 L496.8,657.29 L495.8,656.53 L494.8,656.44 L493.8,656.69 L492.8,655.36 L491.8,655.22 L490.8,655.13 L489.8,654.94 L488.8,655.39 L487.8,655.44 L486.8,655.84 L485.8,655.79 L484.8,655.69 L483.8,655.78 L482.8,656.77 L481.8,656.31 L480.8,655.61 L479.8,655.39 L478.8,655.81 L477.8,656.37 L476.8,657.47 L475.8,657.56 L474.8,657.31 L473.8,657.28 L472.8,656.99 L471.8,656.28 L470.8,655.39 L469.8,655.91 L468.8,655.56 L467.8,655.81 L466.8,655.82 L465.8,656.48 L464.8,655.97 L463.8,656.16 L462.8,655.84 L461.8,655.52 L460.8,655.75 L459.8,656.4 L458.8,656.4 L457.8,656.79 L456.8,657.34 L455.8,657.19 L454.8,656.39 L453.8,655.91 L452.8,656.08 L451.8,656.01 L450.8,656.07 L449.8,655.3 L448.8,655.66 L447.8,656 L446.8,656.07 L445.8,656.42 L444.8,656.7 L443.8,655.84 L442.8,656.38 L441.8,655 L440.8,655.55 L439.8,655.67 L438.8,655.54 L437.8,656.08 L436.8,655.32 L435.8,655.23 L434.8,655.89 L433.8,655.57 L432.8,657.98 L431.8,655.69 L430.8,656.34 L429.8,655.1 L428.8,655.76 L427.8,656.7 L426.8,656.45 L425.8,656.66 L424.8,656.77 L423.8,656.26 L422.8,656.37 L421.8,655.86 L420.8,655.88 L419.8,656.12 L418.8,656.81 L417.8,659.47 L416.8,656.85 L415.8,656.08 L414.8,656.1 L413.8,656.04 L412.8,656.32 L411.8,655.38 L410.8,655.79 L409.8,656.2 L408.8,656.75 L407.8,656.97 L406.8,656.57 L405.8,656.81 L404.8,656.09 L403.8,656.01 L402.8,656.66 L401.8,657.13 L400.8,656.91 L399.8,656.83 L398.8,656.39 L397.8,656.35 L396.8,658.72 L395.8,656 L394.8,656.63 L393.8,656.01 L392.8,657.26 L391.8,656.52 L390.8,656.25 L389.8,656.02 L388.8,655.05 L387.8,655.2 L386.8,655.82 L385.8,656.68 L384.8,657.58 L383.8,657.38 L382.8,656.7 L381.8,657.5 L380.8,657.12 L379.8,656.33 L378.8,655.26 L377.8,655.09 L376.8,655.69 L375.8,656.89 L374.8,656.51 L373.8,656.01 L372.8,654.82 L371.8,655.24 L370.8,655.42 L369.8,655.25 L368.8,655.96 L367.8,655.55 L366.8,656.51 L365.8,656.69 L364.8,657.27 L363.8,656.56 L362.8,656.28 L361.8,656.1 L360.8,655.66 L359.8,655.3 L358.8,657.24 L357.8,655.38 L356.8,655.48 L355.8,656.03 L354.8,656.94 L353.8,656.31 L352.8,656.15 L351.8,656.9 L350.8,656.22 L349.8,656.43 L348.8,656.07 L347.8,656.97 L346.8,656.55 L345.8,656.23 L344.8,656.19 L343.8,655.94 L342.8,656.22 L341.8,656.83 L340.8,656.47 L339.8,657 L338.8,656.84 L337.8,656.1 L336.8,657.16 L335.8,656.88 L334.8,656.91 L333.8,656.51 L332.8,655.48 L331.8,655.84 L330.8,656.32 L329.8,656.16 L328.8,656.38 L327.8,656.98 L326.8,656.21 L325.8,655.78 L324.8,656.2 L323.8,655.32 L322.8,655.74 L321.8,655.8 L320.8,655.4 L319.8,656.21 L318.8,658.02 L317.8,656.01 L316.8,655.61 L315.8,655.88 L314.8,655.17 L313.8,656.08 L312.8,656.82 L311.8,656.46 L310.8,656.84 L309.8,656.16 L308.8,655.33 L307.8,655.88 L306.8,655.53 L305.8,656.18 L304.8,656.07 L303.8,655.31 L302.8,656.19 L301.8,657.22 L300.8,657.34 L299.8,657.35 L298.8,656.91 L297.8,656.48 L296.8,655.59 L295.8,655.38 L294.8,655.31 L293.8,655.73 L292.8,656.66 L291.8,656.42 L290.8,656.61 L289.8,655.66 L288.8,656.13 L287.8,656.07 L286.8,655.98 L285.8,656.43 L284.8,655.59 L283.8,655.95 L282.8,654.65 L281.8,654.96 L280.8,655.39 L279.8,655.64 L278.8,656.73 L277.8,657.32 L276.8,657.14 L275.8,656.71 L274.8,655.78 L273.8,656.43 L272.8,656.41 L271.8,655.75 L270.8,655.72 L269.8,655.08 L268.8,655.74 L267.8,656.96 L266.8,656.24 L265.8,656.08 L264.8,656.91 L263.8,656.42 L262.8,655.43 L261.8,655.38 L260.8,654.56 L259.8,655.04 L258.8,655.65 L257.8,655.61 L256.8,656.22 L255.8,655.25 L254.8,656.2 L253.8,655.67 L252.8,656.17 L251.8,655.92 L250.8,655.9 L249.8,655.62 L248.8,656.49 L247.8,656.64 L246.8,655.7 L245.8,655.46 L244.8,655.59 L243.8,658.4 L242.8,655.62 L241.8,655.83 L240.8,656.32 L239.8,658 L238.8,657.09 L237.8,657.16 L236.8,656.87 L235.8,656.85 L234.8,656.1 L233.8,655.91 L232.8,654.81 L231.8,655.07 L230.8,657.95 L229.8,655.6 L228.8,654.69 L227.8,655.18 L226.8,655.67 L225.8,655.55 L224.8,656.69 L223.8,656.54 L222.8,657.22 L221.8,656.14 L220.8,655.4 L219.8,655.94 L218.8,656.9 L217.8,656.46 L216.8,655.86 L215.8,655.51 L214.8,655.27 L213.8,654.86 L212.8,655.4 L211.8,655.62 L210.8,656.45 L209.8,655.65 L208.8,655.67 L207.8,656.75 L206.8,656.06 L205.8,655.72 L204.8,658.95 L203.8,656.2 L202.8,656.44 L201.8,655.72 L200.8,655.55 L199.8,654.76 L198.8,655.37 L197.8,654.57 L196.8,654.87 L195.8,655.3 L194.8,656.45 L193.8,657.13 L192.8,656.85 L191.8,656.2 L190.8,655.89 L189.8,656.9 L188.8,656.83 L187.8,656.36 L186.8,656.15 L185.8,655.6 L184.8,655.49 L183.8,658.27 L182.8,656.85 L181.8,656.71 L180.8,657.02 L179.8,656.94 L178.8,656.92 L177.8,656.64 L176.8,655.85 L175.8,655.61 L174.8,655.72 L173.8,655.14 L172.8,655.9 L171.8,654.94 L170.8,655.38 L169.8,655.38 L168.8,657.7 L167.8,655.15 L166.8,657.84 L165.8,656.89 L164.8,657.03 L163.8,656.49 L162.8,656.82 L161.8,656.54 L160.8,655.95 L159.8,655.3 L158.8,654.39 L157.8,654.13 L156.8,654.58 L155.8,655.34 L154.8,654.6 L153.8,654.34 L152.8,654.48 L151.8,655.19 L150.8,654.59 L149.8,655.21 L148.8,654.68 L147.8,654.86 L146.8,654.62 L145.8,654.89 L144.8,655.19 L143.8,655.88 L142.8,654.72 L141.8,654.92 L140.8,655.11 L139.8,655.67 L138.8,654.68 L137.8,654.69 L136.8,654.97 L135.8,655.7 L134.8,655.62 L133.8,656.87 L132.8,656.36 L131.8,656.06 L130.8,654.97 L129.8,656.1 L128.8,655.43 L127.8,656 L126.8,655.29 L125.8,655.27 L124.8,655.04 L123.8,655.49 L122.8,656.92 L121.8,656.46 L120.8,656.17 L119.8,655.73 L118.8,655.61 Z" fill="#c6c6c6"/>
<line x1="232" y1="652.28" x2="232" y2="641.8" stroke="#c6c6c6" stroke-width="1.5" stroke-linecap="butt"/>
<line x1="344" y1="652.56" x2="344" y2="639.4" stroke="#c6c6c6" stroke-width="1.5" stroke-linecap="butt"/>
<line x1="690" y1="653.55" x2="690" y2="632" stroke="#c6c6c6" stroke-width="1.5" stroke-linecap="butt"/>
<line x1="803" y1="654.12" x2="803" y2="634" stroke="#c6c6c6" stroke-width="1.5" stroke-linecap="butt"/>
<line x1="928" y1="654.77" x2="928" y2="636.4" stroke="#c6c6c6" stroke-width="1.5" stroke-linecap="butt"/>
<line x1="989" y1="655.15" x2="989" y2="644" stroke="#c6c6c6" stroke-width="1.5" stroke-linecap="butt"/>
<line x1="180" y1="652.15" x2="180" y2="645.4" stroke="#c6c6c6" stroke-width="1.5" stroke-linecap="butt"/>
<line x1="377" y1="652.65" x2="377" y2="645.4" stroke="#c6c6c6" stroke-width="1.5" stroke-linecap="butt"/>
<line x1="473" y1="652.88" x2="473" y2="645.7" stroke="#c6c6c6" stroke-width="1.5" stroke-linecap="butt"/>
<line x1="721" y1="653.7" x2="721" y2="665.4" stroke="#c6c6c6" stroke-width="1.5" stroke-linecap="butt"/>
<line x1="465" y1="652.86" x2="465" y2="659.8" stroke="#c6c6c6" stroke-width="1.5" stroke-linecap="butt"/>
<line x1="900" y1="654.6" x2="900" y2="661.5" stroke="#c6c6c6" stroke-width="1.5" stroke-linecap="butt"/>
<line x1="1030" y1="655.4" x2="1030" y2="662.5" stroke="#c6c6c6" stroke-width="1.5" stroke-linecap="butt"/>
<line x1="590" y1="653.18" x2="590" y2="645.5" stroke="#c6c6c6" stroke-width="1.5" stroke-linecap="butt"/>
<line x1="640" y1="653.3" x2="640" y2="645.8" stroke="#c6c6c6" stroke-width="1.5" stroke-linecap="butt"/>
<line x1="1125" y1="655.98" x2="1125" y2="646.5" stroke="#c6c6c6" stroke-width="1.5" stroke-linecap="butt"/>
<line x1="950" y1="654.91" x2="950" y2="663.5" stroke="#c6c6c6" stroke-width="1.5" stroke-linecap="butt"/>
<line x1="1096" y1="655.81" x2="1096" y2="662.8" stroke="#c6c6c6" stroke-width="1.5" stroke-linecap="butt"/>
<line x1="118.07" y1="932.8" x2="118.07" y2="646.4" stroke="#c6c6c6" stroke-width="2.2" stroke-linecap="butt"/>
<line x1="135.65" y1="585.13" x2="142.22" y2="584.37" stroke="#c8c8c8" stroke-width="3.4" stroke-linecap="round"/>
<line x1="163.95" y1="583.19" x2="177.42" y2="583.31" stroke="#c8c8c8" stroke-width="3.4" stroke-linecap="round"/>
<line x1="199.17" y1="584.42" x2="212.74" y2="585.68" stroke="#c8c8c8" stroke-width="3.4" stroke-linecap="round"/>
<line x1="234.23" y1="584.35" x2="248.22" y2="581.25" stroke="#c8c8c8" stroke-width="3.4" stroke-linecap="round"/>
<line x1="269.64" y1="580.55" x2="283.36" y2="582.65" stroke="#c8c8c8" stroke-width="3.4" stroke-linecap="round"/>
<line x1="305.02" y1="583.74" x2="318.52" y2="583.06" stroke="#c8c8c8" stroke-width="3.4" stroke-linecap="round"/>
<line x1="340.31" y1="582.41" x2="353.78" y2="582.29" stroke="#c8c8c8" stroke-width="3.4" stroke-linecap="round"/>
<line x1="375.55" y1="583.03" x2="389.09" y2="584.07" stroke="#c8c8c8" stroke-width="3.4" stroke-linecap="round"/>
<line x1="410.52" y1="582.21" x2="424.67" y2="578.59" stroke="#c8c8c8" stroke-width="3.4" stroke-linecap="round"/>
<line x1="445.97" y1="577.73" x2="459.75" y2="580.07" stroke="#c8c8c8" stroke-width="3.4" stroke-linecap="round"/>
<line x1="481.4" y1="581.81" x2="494.87" y2="581.69" stroke="#c8c8c8" stroke-width="3.4" stroke-linecap="round"/>
<line x1="516.66" y1="582.16" x2="530.16" y2="582.84" stroke="#c8c8c8" stroke-width="3.4" stroke-linecap="round"/>
<line x1="551.95" y1="583.49" x2="565.42" y2="583.61" stroke="#c8c8c8" stroke-width="3.4" stroke-linecap="round"/>
<line x1="587.16" y1="584.81" x2="600.75" y2="586.19" stroke="#c8c8c8" stroke-width="3.4" stroke-linecap="round"/>
<line x1="622.42" y1="586.1" x2="636.03" y2="584.6" stroke="#c8c8c8" stroke-width="3.4" stroke-linecap="round"/>
<line x1="657.76" y1="583.12" x2="671.24" y2="582.78" stroke="#c8c8c8" stroke-width="3.4" stroke-linecap="round"/>
<line x1="693.03" y1="582.13" x2="706.52" y2="581.67" stroke="#c8c8c8" stroke-width="3.4" stroke-linecap="round"/>
<line x1="728.27" y1="580.38" x2="741.82" y2="579.22" stroke="#c8c8c8" stroke-width="3.4" stroke-linecap="round"/>
<line x1="763.55" y1="579.13" x2="777.09" y2="580.17" stroke="#c8c8c8" stroke-width="3.4" stroke-linecap="round"/>
<line x1="798.81" y1="582.02" x2="812.37" y2="583.28" stroke="#c8c8c8" stroke-width="3.4" stroke-linecap="round"/>
<line x1="834.13" y1="584.3" x2="847.6" y2="584.3" stroke="#c8c8c8" stroke-width="3.4" stroke-linecap="round"/>
<line x1="869.4" y1="584.3" x2="882.87" y2="584.3" stroke="#c8c8c8" stroke-width="3.4" stroke-linecap="round"/>
<line x1="904.5" y1="582.38" x2="918.32" y2="579.92" stroke="#c8c8c8" stroke-width="3.4" stroke-linecap="round"/>
<line x1="939.82" y1="579.65" x2="953.54" y2="581.75" stroke="#c8c8c8" stroke-width="3.4" stroke-linecap="round"/>
<line x1="975.21" y1="583.86" x2="988.7" y2="584.44" stroke="#c8c8c8" stroke-width="3.4" stroke-linecap="round"/>
<line x1="1010.49" y1="584.62" x2="1023.97" y2="584.28" stroke="#c8c8c8" stroke-width="3.4" stroke-linecap="round"/>
<line x1="1045.76" y1="584" x2="1059.24" y2="584" stroke="#c8c8c8" stroke-width="3.4" stroke-linecap="round"/>
<line x1="1080.99" y1="585.02" x2="1094.56" y2="586.28" stroke="#c8c8c8" stroke-width="3.4" stroke-linecap="round"/>
<line x1="1116.23" y1="586.01" x2="1129.86" y2="584.39" stroke="#c8c8c8" stroke-width="3.4" stroke-linecap="round"/>
<line x1="1151.58" y1="583.19" x2="1165.05" y2="583.31" stroke="#c8c8c8" stroke-width="3.4" stroke-linecap="round"/>
<circle cx="124.83" cy="586.4" r="7.0" fill="#dcb4fa" stroke="#3a3340" stroke-width="1.3"/>
<circle cx="153.05" cy="583.1" r="7.0" fill="#dcb4fa" stroke="#3a3340" stroke-width="1.3"/>
<circle cx="188.32" cy="583.4" r="7.0" fill="#dcb4fa" stroke="#3a3340" stroke-width="1.3"/>
<circle cx="223.59" cy="586.7" r="7.0" fill="#dcb4fa" stroke="#3a3340" stroke-width="1.3"/>
<circle cx="258.86" cy="578.9" r="7.0" fill="#dcb4fa" stroke="#3a3340" stroke-width="1.3"/>
<circle cx="294.14" cy="584.3" r="7.0" fill="#dcb4fa" stroke="#3a3340" stroke-width="1.3"/>
<circle cx="329.41" cy="582.5" r="7.0" fill="#dcb4fa" stroke="#3a3340" stroke-width="1.3"/>
<circle cx="364.68" cy="582.2" r="7.0" fill="#dcb4fa" stroke="#3a3340" stroke-width="1.3"/>
<circle cx="399.95" cy="584.9" r="7.0" fill="#dcb4fa" stroke="#3a3340" stroke-width="1.3"/>
<circle cx="435.23" cy="575.9" r="7.0" fill="#dcb4fa" stroke="#3a3340" stroke-width="1.3"/>
<circle cx="470.5" cy="581.9" r="7.0" fill="#dcb4fa" stroke="#3a3340" stroke-width="1.3"/>
<circle cx="505.77" cy="581.6" r="7.0" fill="#dcb4fa" stroke="#3a3340" stroke-width="1.3"/>
<circle cx="541.05" cy="583.4" r="7.0" fill="#dcb4fa" stroke="#3a3340" stroke-width="1.3"/>
<circle cx="576.32" cy="583.7" r="7.0" fill="#dcb4fa" stroke="#3a3340" stroke-width="1.3"/>
<circle cx="611.59" cy="587.3" r="7.0" fill="#dcb4fa" stroke="#3a3340" stroke-width="1.3"/>
<circle cx="646.86" cy="583.4" r="7.0" fill="#dcb4fa" stroke="#3a3340" stroke-width="1.3"/>
<circle cx="682.14" cy="582.5" r="7.0" fill="#dcb4fa" stroke="#3a3340" stroke-width="1.3"/>
<circle cx="717.41" cy="581.3" r="7.0" fill="#dcb4fa" stroke="#3a3340" stroke-width="1.3"/>
<circle cx="752.68" cy="578.3" r="7.0" fill="#dcb4fa" stroke="#3a3340" stroke-width="1.3"/>
<circle cx="787.95" cy="581" r="7.0" fill="#dcb4fa" stroke="#3a3340" stroke-width="1.3"/>
<circle cx="823.23" cy="584.3" r="7.0" fill="#dcb4fa" stroke="#3a3340" stroke-width="1.3"/>
<circle cx="858.5" cy="584.3" r="7.0" fill="#dcb4fa" stroke="#3a3340" stroke-width="1.3"/>
<circle cx="893.77" cy="584.3" r="7.0" fill="#dcb4fa" stroke="#3a3340" stroke-width="1.3"/>
<circle cx="929.05" cy="578" r="7.0" fill="#dcb4fa" stroke="#3a3340" stroke-width="1.3"/>
<circle cx="964.32" cy="583.4" r="7.0" fill="#dcb4fa" stroke="#3a3340" stroke-width="1.3"/>
<circle cx="999.59" cy="584.9" r="7.0" fill="#dcb4fa" stroke="#3a3340" stroke-width="1.3"/>
<circle cx="1034.86" cy="584" r="7.0" fill="#dcb4fa" stroke="#3a3340" stroke-width="1.3"/>
<circle cx="1070.14" cy="584" r="7.0" fill="#dcb4fa" stroke="#3a3340" stroke-width="1.3"/>
<circle cx="1105.41" cy="587.3" r="7.0" fill="#dcb4fa" stroke="#3a3340" stroke-width="1.3"/>
<circle cx="1140.68" cy="583.1" r="7.0" fill="#dcb4fa" stroke="#3a3340" stroke-width="1.3"/>
<circle cx="1175.95" cy="583.4" r="7.0" fill="#dcb4fa" stroke="#3a3340" stroke-width="1.3"/>
<path d="M253.2,676 H259.9 V708.7 H211.7 V714.9 L192,705.3 L211.7,695.2 V702 H253.2 Z" fill="#bfbfbf"/>
<path d="M1016.1,608.8 H1022.8 V629.9 H1064.1 V623.2 L1083.6,633.3 L1064.1,643 V636.7 H1016.1 Z" fill="#dcb4fc"/>
<path d="M82.5,546.0 H1246.5 V932.8 H82.5 Z" fill="none" stroke="#000" stroke-width="2.4"/>
<line x1="82.5" y1="543.5" x2="82.5" y2="546" stroke="#000" stroke-width="2.4" stroke-linecap="butt"/>
<line x1="72.5" y1="932.8" x2="82.5" y2="932.8" stroke="#000" stroke-width="2.2" stroke-linecap="butt"/>
<text transform="translate(52.65,940.04) scale(0.8680,0.9050)" font-size="30" font-family="Liberation Sans" font-weight="bold">0</text>
<line x1="77.5" y1="896.87" x2="82.5" y2="896.87" stroke="#000" stroke-width="2.2" stroke-linecap="butt"/>
<line x1="72.5" y1="860.94" x2="82.5" y2="860.94" stroke="#000" stroke-width="2.2" stroke-linecap="butt"/>
<text transform="translate(38.11,868.18) scale(0.8680,0.9050)" font-size="30" font-family="Liberation Sans" font-weight="bold">10</text>
<line x1="77.5" y1="825.01" x2="82.5" y2="825.01" stroke="#000" stroke-width="2.2" stroke-linecap="butt"/>
<line x1="72.5" y1="789.08" x2="82.5" y2="789.08" stroke="#000" stroke-width="2.2" stroke-linecap="butt"/>
<text transform="translate(38.11,796.32) scale(0.8680,0.9050)" font-size="30" font-family="Liberation Sans" font-weight="bold">20</text>
<line x1="77.5" y1="753.15" x2="82.5" y2="753.15" stroke="#000" stroke-width="2.2" stroke-linecap="butt"/>
<line x1="72.5" y1="717.22" x2="82.5" y2="717.22" stroke="#000" stroke-width="2.2" stroke-linecap="butt"/>
<text transform="translate(38.11,724.46) scale(0.8680,0.9050)" font-size="30" font-family="Liberation Sans" font-weight="bold">30</text>
<line x1="77.5" y1="681.29" x2="82.5" y2="681.29" stroke="#000" stroke-width="2.2" stroke-linecap="butt"/>
<line x1="72.5" y1="645.36" x2="82.5" y2="645.36" stroke="#000" stroke-width="2.2" stroke-linecap="butt"/>
<text transform="translate(38.11,652.6) scale(0.8680,0.9050)" font-size="30" font-family="Liberation Sans" font-weight="bold">40</text>
<line x1="77.5" y1="609.43" x2="82.5" y2="609.43" stroke="#000" stroke-width="2.2" stroke-linecap="butt"/>
<line x1="72.5" y1="573.5" x2="82.5" y2="573.5" stroke="#000" stroke-width="2.2" stroke-linecap="butt"/>
<text transform="translate(38.11,580.74) scale(0.8680,0.9050)" font-size="30" font-family="Liberation Sans" font-weight="bold">50</text>
<line x1="1237" y1="932.8" x2="1246.5" y2="932.8" stroke="#000" stroke-width="2.2" stroke-linecap="butt"/>
<text transform="translate(1255.93,939.99) scale(0.8680,0.9050)" font-size="30" font-family="Liberation Sans" font-weight="bold">0</text>
<line x1="1241" y1="897.54" x2="1246.5" y2="897.54" stroke="#000" stroke-width="2.2" stroke-linecap="butt"/>
<line x1="1237" y1="862.28" x2="1246.5" y2="862.28" stroke="#000" stroke-width="2.2" stroke-linecap="butt"/>
<text transform="translate(1255.93,869.47) scale(0.8680,0.9050)" font-size="30" font-family="Liberation Sans" font-weight="bold">20</text>
<line x1="1241" y1="827.02" x2="1246.5" y2="827.02" stroke="#000" stroke-width="2.2" stroke-linecap="butt"/>
<line x1="1237" y1="791.76" x2="1246.5" y2="791.76" stroke="#000" stroke-width="2.2" stroke-linecap="butt"/>
<text transform="translate(1255.93,798.95) scale(0.8680,0.9050)" font-size="30" font-family="Liberation Sans" font-weight="bold">40</text>
<line x1="1241" y1="756.5" x2="1246.5" y2="756.5" stroke="#000" stroke-width="2.2" stroke-linecap="butt"/>
<line x1="1237" y1="721.24" x2="1246.5" y2="721.24" stroke="#000" stroke-width="2.2" stroke-linecap="butt"/>
<text transform="translate(1255.93,728.43) scale(0.8680,0.9050)" font-size="30" font-family="Liberation Sans" font-weight="bold">60</text>
<line x1="1241" y1="685.98" x2="1246.5" y2="685.98" stroke="#000" stroke-width="2.2" stroke-linecap="butt"/>
<line x1="1237" y1="650.72" x2="1246.5" y2="650.72" stroke="#000" stroke-width="2.2" stroke-linecap="butt"/>
<text transform="translate(1255.93,657.91) scale(0.8680,0.9050)" font-size="30" font-family="Liberation Sans" font-weight="bold">80</text>
<line x1="1241" y1="615.46" x2="1246.5" y2="615.46" stroke="#000" stroke-width="2.2" stroke-linecap="butt"/>
<line x1="1237" y1="580.2" x2="1246.5" y2="580.2" stroke="#000" stroke-width="2.2" stroke-linecap="butt"/>
<text transform="translate(1255.93,587.39) scale(0.8680,0.9050)" font-size="30" font-family="Liberation Sans" font-weight="bold">100</text>
<line x1="1241" y1="544.94" x2="1246.5" y2="544.94" stroke="#000" stroke-width="2.2" stroke-linecap="butt"/>
<line x1="117.77" y1="932.8" x2="117.77" y2="942.3" stroke="#000" stroke-width="2.2" stroke-linecap="butt"/>
<text transform="translate(110.5,969.3) scale(0.8680,0.9050)" font-size="30" font-family="Liberation Sans" font-weight="bold">0</text>
<line x1="223.59" y1="932.8" x2="223.59" y2="938.3" stroke="#000" stroke-width="2.2" stroke-linecap="butt"/>
<line x1="329.41" y1="932.8" x2="329.41" y2="942.3" stroke="#000" stroke-width="2.2" stroke-linecap="butt"/>
<text transform="translate(315.09,969.3) scale(0.8680,0.9050)" font-size="30" font-family="Liberation Sans" font-weight="bold">30</text>
<line x1="435.23" y1="932.8" x2="435.23" y2="938.3" stroke="#000" stroke-width="2.2" stroke-linecap="butt"/>
<line x1="541.05" y1="932.8" x2="541.05" y2="942.3" stroke="#000" stroke-width="2.2" stroke-linecap="butt"/>
<text transform="translate(526.61,969.3) scale(0.8680,0.9050)" font-size="30" font-family="Liberation Sans" font-weight="bold">60</text>
<line x1="646.86" y1="932.8" x2="646.86" y2="938.3" stroke="#000" stroke-width="2.2" stroke-linecap="butt"/>
<line x1="752.68" y1="932.8" x2="752.68" y2="942.3" stroke="#000" stroke-width="2.2" stroke-linecap="butt"/>
<text transform="translate(738.25,969.3) scale(0.8680,0.9050)" font-size="30" font-family="Liberation Sans" font-weight="bold">90</text>
<line x1="858.5" y1="932.8" x2="858.5" y2="938.3" stroke="#000" stroke-width="2.2" stroke-linecap="butt"/>
<line x1="964.32" y1="932.8" x2="964.32" y2="942.3" stroke="#000" stroke-width="2.2" stroke-linecap="butt"/>
<text transform="translate(942.29,969.3) scale(0.8680,0.9050)" font-size="30" font-family="Liberation Sans" font-weight="bold">120</text>
<line x1="1070.14" y1="932.8" x2="1070.14" y2="938.3" stroke="#000" stroke-width="2.2" stroke-linecap="butt"/>
<line x1="1175.95" y1="932.8" x2="1175.95" y2="942.3" stroke="#000" stroke-width="2.2" stroke-linecap="butt"/>
<text transform="translate(1153.93,969.3) scale(0.8680,0.9050)" font-size="30" font-family="Liberation Sans" font-weight="bold">150</text>
<text x="611.5" y="1006.6" font-size="27.5" font-family="Liberation Sans" font-weight="bold">Time <tspan font-weight="normal" font-size="24">(</tspan>h<tspan font-weight="normal" font-size="24">)</tspan></text>
<text transform="translate(24.47,891.69) rotate(-90) scale(0.8701,0.8536)" font-size="30" fill="#000" font-family="Liberation Sans" font-weight="bold" xml:space="preserve">Current  Density (mA/cm<tspan class="ss" font-size="18.6" dy="-13.8">2</tspan><tspan dy="13.8">)</tspan></text>
<text transform="translate(1329.31,904.50) rotate(-90) scale(0.8810,0.8786)" font-size="30" fill="#000" font-family="Liberation Sans" font-weight="bold" >O<tspan class="ss" font-size="18.6" dy="10.2">2</tspan><tspan dy="-10.2"> Faradaic Efficiency (%)</tspan></text>
<text transform="translate(6.59,530.45) scale(1.3093,1.3093)" font-size="30" fill="#000" font-family="Liberation Sans" font-weight="bold" >(c)</text>
<text transform="translate(155.57,858.26) scale(1.0150,1.0150)" font-size="30" fill="#000" font-family="Liberation Sans" font-weight="bold" >Potential: 1.5 V <tspan font-style="italic">vs.</tspan> RHE</text>
<text transform="translate(155.58,894.40) scale(1.0103,1.0103)" font-size="30" fill="#000" font-family="Liberation Sans" font-weight="bold" >1 M KOH pH 13.7</text>
<defs><linearGradient id="rb" x1="0" y1="751.9" x2="0" y2="811.2" gradientUnits="userSpaceOnUse"><stop offset="0" stop-color="#7a00d8"/><stop offset="0.24" stop-color="#6a00e0"/><stop offset="0.33" stop-color="#0000ff"/><stop offset="0.47" stop-color="#00b050"/><stop offset="0.58" stop-color="#d0f000"/><stop offset="0.62" stop-color="#ffff00"/><stop offset="0.70" stop-color="#ff8000"/><stop offset="0.76" stop-color="#ff0000"/><stop offset="1" stop-color="#ff0000"/></linearGradient><filter id="sh" x="-20%" y="-20%" width="150%" height="150%"><feGaussianBlur in="SourceAlpha" stdDeviation="2"/><feOffset dx="3" dy="3"/><feComponentTransfer><feFuncA type="linear" slope="0.6"/></feComponentTransfer><feMerge><feMergeNode/><feMergeNode in="SourceGraphic"/></feMerge></filter></defs>
<path d="M784.5,676.8 L835.8,728.1 V887.5 L784.5,836.5 Z" fill="#0a8bc2" stroke="#000" stroke-width="2.5" stroke-linejoin="miter" stroke-miterlimit="2.2"/>
<path d="M784.5,676.8 H824.3 L875.3,728.1 H835.8 Z" fill="#33bdf2" stroke="#000" stroke-width="2.5" stroke-linejoin="miter" stroke-miterlimit="2.2"/>
<path d="M824.3,676.8 H832.7 L883.7,728.1 H875.3 Z" fill="#e2e2e2" stroke="#000" stroke-width="2.5" stroke-linejoin="miter" stroke-miterlimit="2.2"/>
<path d="M832.7,676.8 H853.5 L904.5,728.1 H883.7 Z" fill="#cbbddc" stroke="#000" stroke-width="2.5" stroke-linejoin="miter" stroke-miterlimit="2.2"/>
<rect x="835.8" y="728.1" width="39.5" height="159.4" fill="#00aeef" stroke="#000" stroke-width="2.5" stroke-linejoin="miter" stroke-miterlimit="2.2"/>
<rect x="875.3" y="728.1" width="8.4" height="159.4" fill="#d9d9d9" stroke="#000" stroke-width="2.5" stroke-linejoin="miter" stroke-miterlimit="2.2"/>
<rect x="883.7" y="728.1" width="20.8" height="159.4" fill="#bdaed3" stroke="#000" stroke-width="2.5" stroke-linejoin="miter" stroke-miterlimit="2.2"/>
<path d="M720.8,766.6 H758.3 V751.9 L792.3,781.5 L758.3,811.2 V796.5 H720.8 Z" fill="url(#rb)" filter="url(#sh)"/>
<path d="M907,792 Q913,754 949.5,746 L950.4,735 L976.5,752.4 L946.5,774.6 L948,762.5 Q921,767 907,792 Z" fill="#ffff00" stroke="#000" stroke-width="1.6" stroke-linejoin="miter"/>
<path d="M906,811.5 Q928,843 967,843.4 V859.3 Q916,856 906,811.5 Z" fill="#cccc00" stroke="#000" stroke-width="1.6"/>
<text transform="translate(829.6,710.4) scale(1,1.1)" font-size="22.3" font-family="Liberation Sans" font-weight="bold" fill="#fff" stroke="#000" stroke-width="2.8" paint-order="stroke" stroke-linejoin="round">TiO<tspan font-size="15" dy="4.5">2</tspan></text>
<text transform="translate(843.3,810.2) scale(1,1.04)" font-size="25.3" font-family="Liberation Sans" font-weight="bold" fill="#fff" stroke="#000" stroke-width="2.8" paint-order="stroke" stroke-linejoin="round">Si</text>
<text transform="translate(889.6,810.2) scale(1,1.04)" font-size="25.3" font-family="Liberation Sans" font-weight="bold" fill="#fff" stroke="#000" stroke-width="2.8" paint-order="stroke" stroke-linejoin="round">Ni</text>
<text transform="translate(983.30,756.63) scale(0.9639,1.0824)" font-size="30" fill="#000" font-family="Liberation Sans" font-weight="bold" >O<tspan class="ss" font-size="21.0" dy="6.0">2</tspan></text>
<text transform="translate(968.83,865.34) scale(1.0180,1.0353)" font-size="30" fill="#000" font-family="Liberation Sans" font-weight="bold" >OH</text>
<text transform="translate(797.31,914.18) scale(0.8873,0.8873)" font-size="30" fill="#000" font-family="Liberation Sans" font-weight="bold" >Si photoanode</text>
<rect x="1015.6" y="842.1" width="7.6" height="2.4" fill="#000"/>
</svg></body></html>
